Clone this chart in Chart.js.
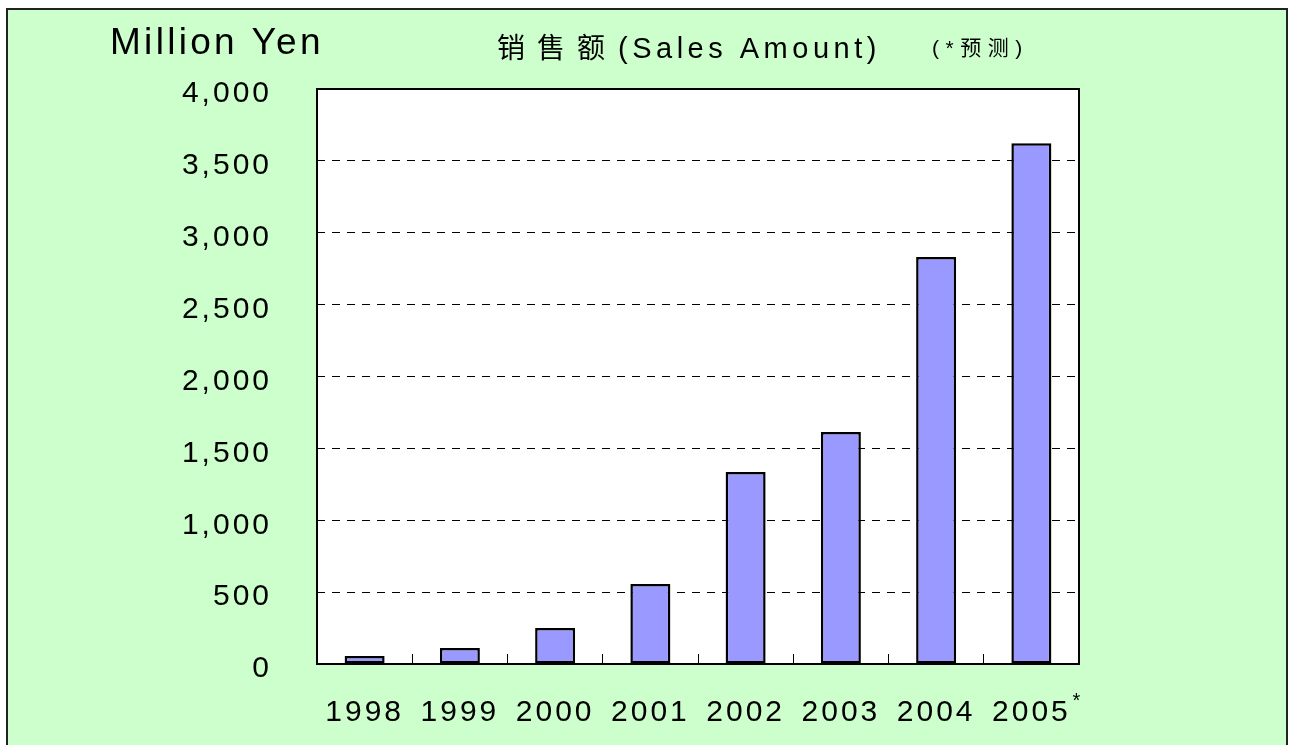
<!DOCTYPE html>
<html>
<head>
<meta charset="utf-8">
<script src="https://cdn.jsdelivr.net/npm/chart.js@4/dist/chart.umd.min.js"></script>
<style>
  html, body { margin: 0; padding: 0; background: #fff; }
  #wrap { width: 1292px; height: 745px; }
</style>
</head>
<body>
<div id="wrap"><canvas id="c" width="1292" height="745"></canvas></div>
<script>
const categories = ['1998', '1999', '2000', '2001', '2002', '2003', '2004', '2005'];
const salesValues = [55, 112, 250, 556, 1336, 1614, 2831, 3623];
const yTickValues = [0, 500, 1000, 1500, 2000, 2500, 3000, 3500, 4000];
const yUnitLabel = 'Million Yen';
const titleCJK = '销售额';
const titleLatin = '(Sales Amount)';
const forecastNote = '(*预测)';
const forecastMark = '*';
const forecastIndex = 7;

const FONT = "'Liberation Sans', Arial, 'Noto Sans CJK SC', sans-serif";
const CJK = "'Noto Sans CJK SC', 'Liberation Sans', sans-serif";

const decorPlugin = {
  id: 'decor',
  beforeDraw(chart) {
    const ctx = chart.ctx;
    const W = chart.width, H = chart.height;
    ctx.save();
    ctx.fillStyle = '#ffffff';
    ctx.fillRect(0, 0, W, H);
    ctx.fillStyle = '#CCFFCC';
    ctx.fillRect(7, 9, 1280, H);
    ctx.strokeStyle = '#222';
    ctx.lineWidth = 2;
    ctx.beginPath();
    ctx.moveTo(7, H + 2); ctx.lineTo(7, 9); ctx.lineTo(1287, 9); ctx.lineTo(1287, H + 2);
    ctx.stroke();
    const a = chart.chartArea;
    ctx.fillStyle = '#ffffff';
    ctx.fillRect(a.left, a.top, a.right - a.left, a.bottom - a.top);

    ctx.fillStyle = '#000';
    ctx.textBaseline = 'alphabetic';
    ctx.textAlign = 'left';
    ctx.letterSpacing = '3.3px';
    ctx.font = '37px ' + FONT;
    ctx.fillText(yUnitLabel, 110, 54);

    ctx.letterSpacing = '12px';
    ctx.font = '28px ' + CJK;
    ctx.fillText(titleCJK, 497, 58);

    ctx.letterSpacing = '4.5px';
    ctx.font = '29px ' + FONT;
    ctx.fillText(titleLatin, 618, 58);

    ctx.letterSpacing = '6.5px';
    ctx.font = '21px ' + FONT;
    ctx.fillText(forecastNote, 932, 55);
    ctx.restore();
    ctx.letterSpacing = '3px';
  },
  afterDatasetsDraw(chart) {
    const ctx = chart.ctx;
    const a = chart.chartArea;
    ctx.save();
    ctx.strokeStyle = '#000';
    ctx.lineWidth = 2;
    ctx.setLineDash([]);
    ctx.strokeRect(a.left, a.top, a.right - a.left, a.bottom - a.top);
    ctx.restore();
  },
  afterDraw(chart) {
    const ctx = chart.ctx;
    const xs = chart.scales.x;
    ctx.save();
    ctx.letterSpacing = '0px';
    ctx.fillStyle = '#000';
    ctx.font = '20px ' + FONT;
    ctx.textAlign = 'left';
    ctx.textBaseline = 'alphabetic';
    ctx.fillText(forecastMark, xs.getPixelForValue(forecastIndex) + 41, 707);
    ctx.restore();
  }
};

new Chart(document.getElementById('c'), {
  type: 'bar',
  data: {
    labels: categories,
    datasets: [{
      data: salesValues,
      backgroundColor: '#9999FF',
      borderColor: '#000000',
      borderWidth: 2.5,
      borderSkipped: false,
      categoryPercentage: 1.0,
      barPercentage: 0.42
    }]
  },
  options: {
    responsive: false,
    animation: false,
    devicePixelRatio: 1,
    layout: { padding: { left: 0, top: 89, right: 213, bottom: 0 } },
    plugins: { legend: { display: false }, tooltip: { enabled: false }, title: { display: false } },
    scales: {
      x: {
        offset: true,
        grid: {
          display: true,
          drawOnChartArea: false,
          drawTicks: true,
          tickLength: -10,
          tickColor: '#000',
          lineWidth: 1,
          offset: true
        },
        border: { display: false },
        ticks: {
          color: '#000',
          font: { family: FONT, size: 30 },
          padding: 41,
          maxRotation: 0,
          autoSkip: false
        },
        afterFit(scale) { scale.height = 81; }
      },
      y: {
        min: 0,
        max: 4000,
        afterBuildTicks(scale) { scale.ticks = yTickValues.map(v => ({ value: v })); },
        grid: {
          color: '#000',
          lineWidth: 1,
          drawTicks: false
        },
        border: { display: false, dash: [8, 7] },
        ticks: {
          color: '#000',
          font: { family: FONT, size: 30 },
          padding: 45,
          labelOffset: 5,
          callback: (v) => Number(v).toLocaleString('en-US')
        },
        afterFit(scale) { scale.width = 317; }
      }
    }
  },
  plugins: [decorPlugin]
});
</script>
</body>
</html>
